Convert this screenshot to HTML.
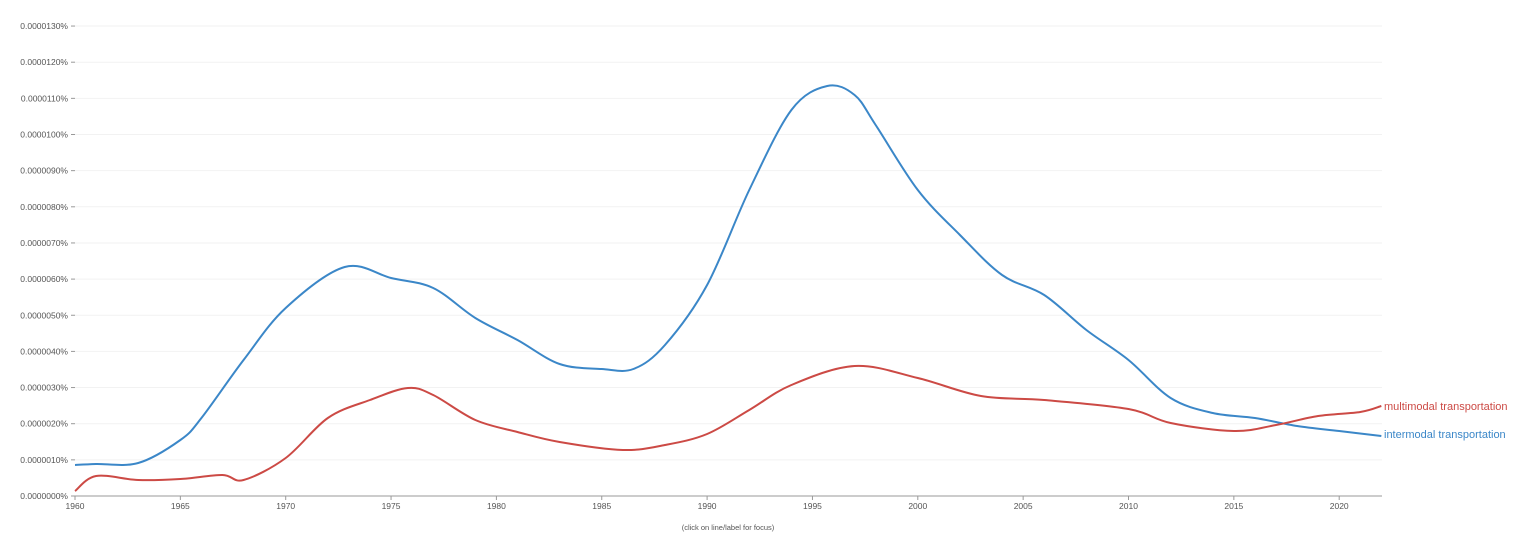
<!DOCTYPE html>
<html><head><meta charset="utf-8"><style>
html,body{margin:0;padding:0;background:#fff;width:1536px;height:559px;overflow:hidden}
svg text{font-family:"Liberation Sans",sans-serif}
</style></head><body>
<svg id="s" width="1536" height="559" xmlns="http://www.w3.org/2000/svg">
<g id="grid"></g>
<line x1="75" y1="496" x2="1382" y2="496" stroke="#999" stroke-width="1"/>
<path id="blue" fill="none" stroke="#3b87c8" stroke-width="2"/>
<path id="red" fill="none" stroke="#cc4a45" stroke-width="2"/>
<text x="1384" y="410" font-size="11" fill="#cc4a45">multimodal transportation</text>
<text x="1384" y="438" font-size="11" fill="#3b87c8">intermodal transportation</text>
<text x="728" y="530" font-size="7.5" fill="#555" text-anchor="middle">(click on line/label for focus)</text>
</svg>
<script>
var g=document.getElementById('grid'),h='';
for(var i=0;i<=13;i++){var y=496-i*36.15;
 if(i>0)h+='<line x1="75" x2="1382" y1="'+y+'" y2="'+y+'" stroke="#f2f2f2"/>';
 h+='<line x1="71" x2="75" y1="'+y+'" y2="'+y+'" stroke="#999"/>';
 h+='<text x="68" y="'+(y+3)+'" font-size="8.5" fill="#555" text-anchor="end">0.0000'+(i<10?'0':'')+i+'0%</text>';}
for(var yr=1960;yr<=2020;yr+=5){var x=75+21.07*(yr-1960);
 h+='<line x1="'+x+'" x2="'+x+'" y1="496" y2="500" stroke="#999"/>';
 h+='<text x="'+x+'" y="509" font-size="8.5" fill="#555" text-anchor="middle">'+yr+'</text>';}
g.innerHTML=h;
function path(p){var d='M'+p[0][0]+','+p[0][1];
 for(var i=0;i<p.length-1;i++){var p0=p[i-1]||p[i],p1=p[i],p2=p[i+1],p3=p[i+2]||p2;
  d+=' C'+(p1[0]+(p2[0]-p0[0])/6)+','+(p1[1]+(p2[1]-p0[1])/6)+' '+(p2[0]-(p3[0]-p1[0])/6)+','+(p2[1]-(p3[1]-p1[1])/6)+' '+p2[0]+','+p2[1];}
 return d;}
function P(a){return a.map(function(q){return [75+21.07*(q[0]-1960),q[1]]});}
var blue=P([[1960,465],[1961,464],[1963,463],[1965,440],[1966,418],[1968,360],[1970,308],[1972.8,267],[1975,278],[1977,288],[1979,318],[1981,340],[1983,364],[1985,369],[1986.5,369],[1988,345],[1990,285],[1992,190],[1994,110],[1995.7,86],[1997,95],[1998,125],[2000,190],[2002,235],[2004,275],[2006,295],[2008,330],[2010,360],[2012,398],[2014,413],[2016,418],[2018,426],[2020,431],[2022,436]]);
var red=P([[1960,491],[1961,476],[1963,480],[1965,479],[1967,475],[1968,480],[1970,458],[1972,418],[1974,400],[1975.8,388],[1977,395],[1979,420],[1981,432],[1983,442],[1986,450],[1988,445],[1990,434],[1992,410],[1994,385],[1997,366],[2000,378],[2003,396],[2006,400],[2010,409],[2012,423],[2015,431],[2017,425],[2019,416],[2021,412],[2022,406]]);
document.getElementById('blue').setAttribute('d',path(blue));
document.getElementById('red').setAttribute('d',path(red));
</script>
</body></html>
